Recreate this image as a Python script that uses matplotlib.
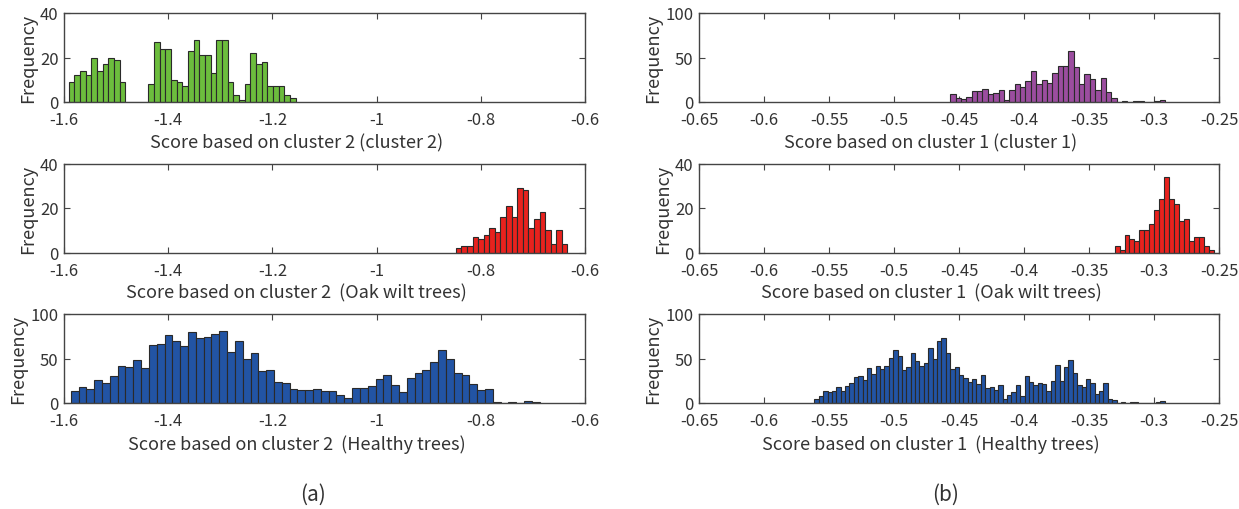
import numpy as np
import matplotlib
matplotlib.use('Agg')
import matplotlib.pyplot as plt
from matplotlib.ticker import FixedLocator, FuncFormatter

plt.rcParams['font.family'] = ['Noto Sans CJK JP', 'DejaVu Sans']
plt.rcParams['axes.unicode_minus'] = False

# ---------------- data ----------------
# (a) scores based on cluster 2
a_cluster2_counts = [9, 12, 14, 12, 20, 14, 17, 20, 19, 9,
                     0, 0, 0, 0,
                     8, 27, 24, 24, 10, 9, 7, 23, 28, 21,
                     21, 13, 28, 28, 9, 3, 1, 8, 22, 17,
                     18, 7, 7, 7, 3, 2]
a_cluster2_bin_start, a_cluster2_bin_width = -1.591, 0.01090

a_oak_counts = [2, 3, 3, 7, 6, 8, 11, 9, 16, 21, 16, 29, 28, 11, 15, 18, 10, 4, 10, 4]
a_oak_bin_start, a_oak_bin_width = -0.848, 0.01072

a_healthy_counts = [14, 18, 16, 26, 23, 30, 42, 40, 48, 39,
                    65, 66, 76, 70, 64, 80, 73, 74, 78, 81,
                    57, 70, 50, 56, 36, 37, 24, 23, 16, 15,
                    15, 16, 14, 14, 9, 6, 17, 17, 19, 27,
                    31, 20, 12, 28, 34, 37, 46, 59, 49, 34,
                    32, 21, 15, 16, 1, 0, 1, 0, 2, 1]
a_healthy_bin_start, a_healthy_bin_width = -1.587, 0.01500

# (b) scores based on cluster 1
b_cluster1_counts = [9, 4, 3, 6, 12, 12, 15, 9, 10, 14,
                     2, 14, 20, 17, 24, 35, 20, 25, 21, 33,
                     40, 41, 57, 39, 20, 31, 26, 13, 27, 11,
                     4, 0, 1, 0, 1, 1, 0, 0, 1, 2]
b_cluster1_bin_start, b_cluster1_bin_width = -0.4569, 0.00413

b_oak_counts = [3, 1, 8, 6, 5, 10, 10, 13, 19, 24, 34, 24, 22, 14, 15, 5, 7, 7, 3, 1]
b_oak_bin_start, b_oak_bin_width = -0.3305, 0.00381

b_healthy_counts = [4, 8, 13, 12, 13, 18, 14, 19, 22, 29,
                    30, 26, 39, 33, 42, 38, 42, 51, 59, 53,
                    37, 41, 56, 47, 42, 45, 62, 50, 70, 73,
                    56, 38, 41, 31, 28, 24, 27, 21, 31, 17,
                    18, 15, 20, 5, 9, 12, 20, 8, 30, 24,
                    20, 22, 21, 14, 25, 43, 25, 40, 48, 34,
                    20, 18, 27, 22, 10, 14, 22, 4, 3, 0,
                    1, 0, 1, 1, 0, 0, 0, 0, 1, 2]
b_healthy_bin_start, b_healthy_bin_width = -0.5613, 0.003367

a_xticks = [-1.6, -1.4, -1.2, -1.0, -0.8, -0.6]
b_xticks = [-0.65, -0.6, -0.55, -0.5, -0.45, -0.4, -0.35, -0.3, -0.25]

a_xlabels = ['Score based on cluster 2 (cluster 2)',
             'Score based on cluster 2  (Oak wilt trees)',
             'Score based on cluster 2  (Healthy trees)']
b_xlabels = ['Score based on cluster 1 (cluster 1)',
             'Score based on cluster 1  (Oak wilt trees)',
             'Score based on cluster 1  (Healthy trees)']

# ---------------- style ----------------
GREEN = '#6cbd3d'
PURPLE = '#9b4d9f'
RED = '#e8221e'
BLUE = '#2254a4'
TXT = '#333333'
SPINE = '#444444'

fig = plt.figure(figsize=(12.39, 5.10), dpi=100)

W, H = 1239.0, 510.0
col_left = [64.0 / W, 699.0 / W]
col_width = [521.0 / W, 520.3 / W]
row_bottom_px = [103.0, 253.5, 404.0]
row_h = 89.0 / H

panels = [
    (0, 0, a_cluster2_counts, a_cluster2_bin_start, a_cluster2_bin_width, GREEN, 40, [0, 20, 40], a_xticks, (-1.6, -0.6), a_xlabels[0]),
    (0, 1, a_oak_counts, a_oak_bin_start, a_oak_bin_width, RED, 40, [0, 20, 40], a_xticks, (-1.6, -0.6), a_xlabels[1]),
    (0, 2, a_healthy_counts, a_healthy_bin_start, a_healthy_bin_width, BLUE, 100, [0, 50, 100], a_xticks, (-1.6, -0.6), a_xlabels[2]),
    (1, 0, b_cluster1_counts, b_cluster1_bin_start, b_cluster1_bin_width, PURPLE, 100, [0, 50, 100], b_xticks, (-0.65, -0.25), b_xlabels[0]),
    (1, 1, b_oak_counts, b_oak_bin_start, b_oak_bin_width, RED, 40, [0, 20, 40], b_xticks, (-0.65, -0.25), b_xlabels[1]),
    (1, 2, b_healthy_counts, b_healthy_bin_start, b_healthy_bin_width, BLUE, 100, [0, 50, 100], b_xticks, (-0.65, -0.25), b_xlabels[2]),
]

fmt = FuncFormatter(lambda v, p: ('%g' % round(v, 4)))

for col, row, counts, start, width, color, ymax, yticks, xticks, xlim, xlabel in panels:
    ax = fig.add_axes([col_left[col], 1 - row_bottom_px[row] / H, col_width[col], row_h])
    counts = np.asarray(counts)
    lefts = start + width * np.arange(len(counts))
    ax.bar(lefts, counts, width=width, align='edge', color=color,
           edgecolor='#2a2a2a', linewidth=0.8, zorder=2)
    ax.set_xlim(*xlim)
    ax.set_ylim(0, ymax)
    ax.xaxis.set_major_locator(FixedLocator(xticks))
    ax.xaxis.set_major_formatter(fmt)
    ax.yaxis.set_major_locator(FixedLocator(yticks))
    ax.tick_params(direction='in', top=True, right=True, length=4, width=0.8,
                   colors=SPINE, labelcolor=TXT, labelsize=12)
    ax.tick_params(axis='x', pad=6.5)
    ax.tick_params(axis='y', pad=4)
    for s in ax.spines.values():
        s.set_color(SPINE)
        s.set_linewidth(1.0)
    ax.set_ylabel('Frequency', fontsize=13, color=TXT, labelpad=2)
    ax.set_xlabel(xlabel, fontsize=13, color=TXT)
    ax.xaxis.set_label_coords(0.446, -0.35)

fig.text(313 / W, 1 - 495 / H, '(a)', fontsize=15, color=TXT, ha='center', va='center')
fig.text(946 / W, 1 - 495 / H, '(b)', fontsize=15, color=TXT, ha='center', va='center')

fig.savefig('out.png', dpi=100, facecolor='white')
